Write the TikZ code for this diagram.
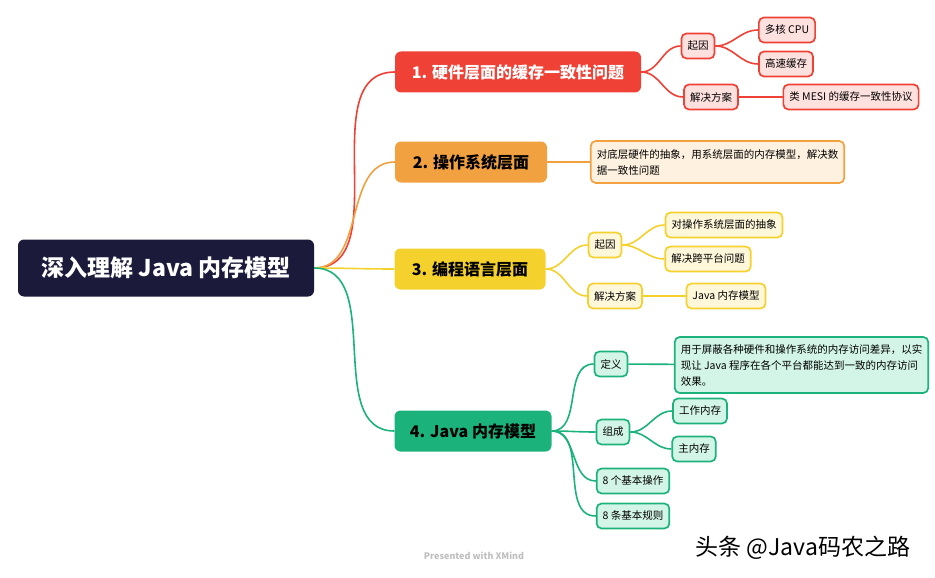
\documentclass[tikz,border=0pt]{standalone}
\usepackage{fontspec}
\setmainfont{Noto Sans CJK SC}
\definecolor{rootc}{HTML}{1B1A3B}
\definecolor{redc}{HTML}{EF4136}
\definecolor{redl}{HTML}{FDE1DF}
\definecolor{orac}{HTML}{F2A141}
\definecolor{oral}{HTML}{FEF1DF}
\definecolor{yelc}{HTML}{F4D12C}
\definecolor{yell}{HTML}{FEF7DA}
\definecolor{grnc}{HTML}{1BB37B}
\definecolor{grnl}{HTML}{D3F5E7}
\begin{document}
\begin{tikzpicture}[x=1pt, y=-1pt,
  topic/.style={rectangle, rounded corners=6pt, minimum height=41pt, font=\fontsize{16}{18}\selectfont\bfseries},
  sub/.style={draw, rectangle, rounded corners=5pt, line width=1.7pt, minimum height=25pt, inner xsep=6pt, font=\fontsize{10.5}{16}\selectfont},
  link/.style={line width=1.6pt}]
\useasboundingbox (0,0) rectangle (935,578);
\node[topic, fill=rootc, text=white, minimum width=296pt, minimum height=57pt, font=\fontsize{23}{26}\selectfont\bfseries] (r) at (166,268) {深入理解 Java 内存模型};

\node[topic, fill=redc, text=white, minimum width=246pt] (hw) at (518,72) {1. 硬件层面的缓存一致性问题};
\node[topic, fill=orac, minimum width=152pt] (os) at (471,162) {2. 操作系统层面};
\node[topic, fill=yelc, minimum width=151pt] (lang) at (470,269) {3. 编程语言层面};
\node[topic, fill=grnc, minimum width=157pt] (jmm) at (473,431) {4. Java 内存模型};

\draw[link, redc] (r.east) to[out=0, in=180] (hw.west);
\draw[link, orac] (r.east) to[out=0, in=180] (os.west);
\draw[link, yelc] (r.east) to[out=0, in=180] (lang.west);
\draw[link, grnc] (r.east) to[out=0, in=180] (jmm.west);

% hardware
\node[sub, draw=redc, fill=redl] (hwc) at (698,46) {起因};
\node[sub, draw=redc, fill=redl] (hwc1) at (787,30) {多核 CPU};
\node[sub, draw=redc, fill=redl] (hwc2) at (786,64) {高速缓存};
\node[sub, draw=redc, fill=redl] (hws) at (711,97) {解决方案};
\node[sub, draw=redc, fill=redl] (hws1) at (851,97) {类 MESI 的缓存一致性协议};
\draw[link, redc] (hw.east) to[out=0, in=180] (hwc.west);
\draw[link, redc] (hw.east) to[out=0, in=180] (hws.west);
\draw[link, redc] (hwc.east) to[out=0, in=180] (hwc1.west);
\draw[link, redc] (hwc.east) to[out=0, in=180] (hwc2.west);
\draw[link, redc] (hws) -- (hws1);

% os
\node[sub, draw=orac, fill=oral, align=left, minimum height=42pt] (osd) at (717.5,162) {对底层硬件的抽象，用系统层面的内存模型，解决数\\据一致性问题};
\draw[link, orac] (os) -- (osd);

% language
\node[sub, draw=yelc, fill=yell] (lc) at (605,245) {起因};
\node[sub, draw=yelc, fill=yell] (lc1) at (724,225) {对操作系统层面的抽象};
\node[sub, draw=yelc, fill=yell] (lc2) at (708,259) {解决跨平台问题};
\node[sub, draw=yelc, fill=yell] (ls) at (615,296) {解决方案};
\node[sub, draw=yelc, fill=yell] (ls1) at (726,296) {Java 内存模型};
\draw[link, yelc] (lang.east) to[out=0, in=180] (lc.west);
\draw[link, yelc] (lang.east) to[out=0, in=180] (ls.west);
\draw[link, yelc] (lc.east) to[out=0, in=180] (lc1.west);
\draw[link, yelc] (lc.east) to[out=0, in=180] (lc2.west);
\draw[link, yelc] (ls) -- (ls1);

% jmm
\node[sub, draw=grnc, fill=grnl] (jd) at (611,364) {定义};
\node[sub, draw=grnc, fill=grnl, align=left, minimum height=56pt] (jd1) at (801.5,365) {用于屏蔽各种硬件和操作系统的内存访问差异，以实\\现让 Java 程序在各个平台都能达到一致的内存访问\\效果。};
\node[sub, draw=grnc, fill=grnl] (jc) at (613,432) {组成};
\node[sub, draw=grnc, fill=grnl] (jc1) at (700,411) {工作内存};
\node[sub, draw=grnc, fill=grnl] (jc2) at (694,449) {主内存};
\node[sub, draw=grnc, fill=grnl] (jo) at (633,481) {8 个基本操作};
\node[sub, draw=grnc, fill=grnl] (jr) at (633,516) {8 条基本规则};
\draw[link, grnc] (jmm.east) to[out=0, in=180] (jd.west);
\draw[link, grnc] (jmm.east) to[out=0, in=180] (jc.west);
\draw[link, grnc] (jmm.east) to[out=0, in=180] (jo.west);
\draw[link, grnc] (jmm.east) to[out=0, in=180] (jr.west);
\draw[link, grnc] (jd) -- (jd1);
\draw[link, grnc] (jc.east) to[out=0, in=180] (jc1.west);
\draw[link, grnc] (jc.east) to[out=0, in=180] (jc2.west);

\node[text=black!25, font=\fontsize{9}{10}\selectfont\bfseries] (pw) at (474,556) {Presented with XMind};
\node[font=\fontsize{23}{25}\selectfont] (tt) at (803,548) {头条 @Java码农之路};
\end{tikzpicture}
\end{document}
